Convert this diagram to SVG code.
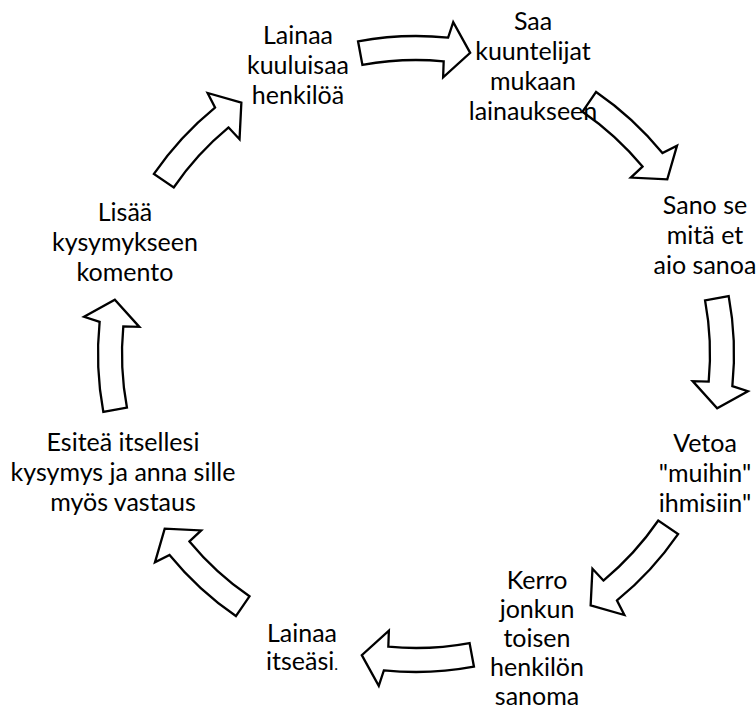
<svg xmlns="http://www.w3.org/2000/svg" xmlns:xlink="http://www.w3.org/1999/xlink" width="756" height="713" viewBox="0 0 756 713">
  <style>
    .lbl { font-family: Lato, "Open Sans", "Liberation Sans", sans-serif; font-size: 25px; fill: #000; text-anchor: middle; }
    .arr { fill: #fff; stroke: #000; stroke-width: 2.3; stroke-linejoin: miter; }
  </style>
  <defs>
    <!-- block arc arrow sitting at the top of the cycle, pointing clockwise -->
    <path id="arcArrow" class="arr" d="M -57.95 -312.67 A 318 318 0 0 1 32.14 -316.37 L 37.23 -331.92 L 54.19 -301.17 L 27.13 -276.67 L 27.67 -292.69 A 294 294 0 0 0 -53.58 -289.08 Z"/>
  </defs>
  <rect width="756" height="713" fill="#fff"/>

  <g id="connectors" transform="translate(416,354)">
    <use xlink:href="#arcArrow" href="#arcArrow"/>
    <use xlink:href="#arcArrow" href="#arcArrow" transform="rotate(45)"/>
    <use xlink:href="#arcArrow" href="#arcArrow" transform="rotate(90)"/>
    <use xlink:href="#arcArrow" href="#arcArrow" transform="rotate(135)"/>
    <use xlink:href="#arcArrow" href="#arcArrow" transform="rotate(180)"/>
    <use xlink:href="#arcArrow" href="#arcArrow" transform="rotate(225)"/>
    <use xlink:href="#arcArrow" href="#arcArrow" transform="rotate(270)"/>
    <use xlink:href="#arcArrow" href="#arcArrow" transform="rotate(315)"/>
  </g>

  <g id="node-lainaa-kuuluisaa">
    <text class="lbl" x="298" y="44">Lainaa</text>
    <text class="lbl" x="298" y="74">kuuluisaa</text>
    <text class="lbl" x="298" y="104">henkilöä</text>
  </g>
  <g id="node-saa-kuuntelijat">
    <text class="lbl" x="533" y="29.5">Saa</text>
    <text class="lbl" x="533" y="59.5">kuuntelijat</text>
    <text class="lbl" x="533" y="89.5">mukaan</text>
    <text class="lbl" x="533" y="119.5">lainaukseen</text>
  </g>
  <g id="node-sano-se">
    <text class="lbl" x="705" y="213.5">Sano se</text>
    <text class="lbl" x="705" y="243.5">mitä et</text>
    <text class="lbl" x="705" y="273.5">aio sanoa</text>
  </g>
  <g id="node-vetoa">
    <text class="lbl" x="705" y="451.5">Vetoa</text>
    <text class="lbl" x="705" y="481.5">"muihin"</text>
    <text class="lbl" x="705" y="511.5">ihmisiin"</text>
  </g>
  <g id="node-kerro">
    <text class="lbl" x="537" y="588.5">Kerro</text>
    <text class="lbl" x="537" y="617.5">jonkun</text>
    <text class="lbl" x="537" y="646.5">toisen</text>
    <text class="lbl" x="537" y="675.5">henkilön</text>
    <text class="lbl" x="537" y="704.5">sanoma</text>
  </g>
  <g id="node-lainaa-itseasi">
    <text class="lbl" x="302" y="641.5">Lainaa</text>
    <text class="lbl" x="302" y="670">itseäsi<tspan font-size="16">.</tspan></text>
  </g>
  <g id="node-esitea">
    <text class="lbl" x="123" y="450.5">Esiteä itsellesi</text>
    <text class="lbl" x="123" y="480.5">kysymys ja anna sille</text>
    <text class="lbl" x="123" y="510.5">myös vastaus</text>
  </g>
  <g id="node-lisaa">
    <text class="lbl" x="125" y="220.5">Lisää</text>
    <text class="lbl" x="125" y="250.5">kysymykseen</text>
    <text class="lbl" x="125" y="280.5">komento</text>
  </g>
</svg>
